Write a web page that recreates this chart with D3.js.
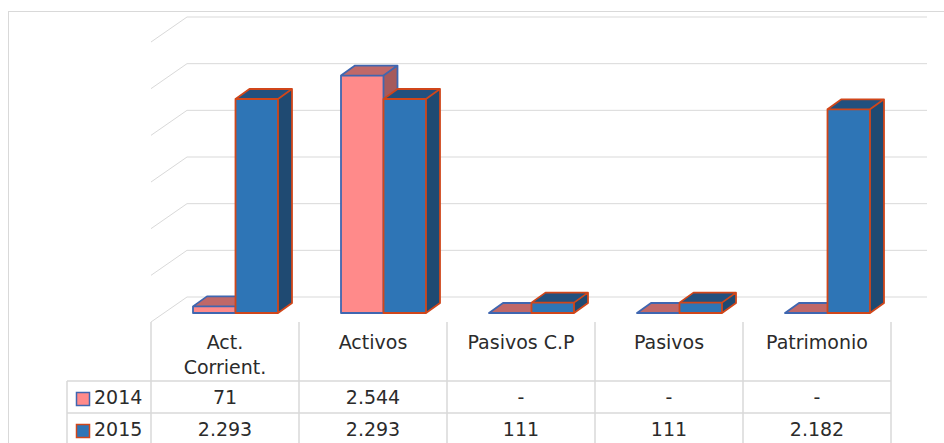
<!DOCTYPE html>
<html>
<head>
<meta charset="utf-8">
<script src="https://cdn.jsdelivr.net/npm/d3@7"></script>
<style>
    body{ margin:0; background:#fff; }
    svg text{ font-family:"DejaVu Sans", sans-serif; fill:#2b2b2b; }
</style>
</head>
<body>
<div id="chart"></div>
<script>
// data
const categories = ['Act. Corrient.', 'Activos', 'Pasivos C.P', 'Pasivos', 'Patrimonio'];
const headerLines = [['Act.', 'Corrient.'], ['Activos'], ['Pasivos C.P'], ['Pasivos'], ['Patrimonio']];
const years = ['2014', '2015'];
const values2014 = [71, 2544, 0, 0, 0];
const values2015 = [2293, 2293, 111, 111, 2182];
const yDomain = [0, 3000];

const width = 944, height = 443;

// colours for each series: front, top, side, outline
const palette = {
    '2014': {front:'#FF8A8A', top:'#C06868', side:'#A65A5C', stroke:'#3F66B0'},
    '2015': {front:'#2E75B6', top:'#22507E', side:'#1F4A72', stroke:'#D0461A'}
};

const locale = d3.formatLocale({decimal:',', thousands:'.', grouping:[3], currency:['', '']});
const fmt = d => d === 0 ? '-' : locale.format(',')(d);

const svg = d3.select('#chart').append('svg')
    .attr('width', width)
    .attr('height', height);

// outer chart border
svg.append('rect')
    .attr('x', 8.5).attr('y', 11.5)
    .attr('width', 960).attr('height', 460)
    .attr('fill', 'none')
    .attr('stroke', '#D9D9D9');

// floor: front edge and depth offset of the 3d box
const floorY = 322;
const depth = {dx: 36, dy: 25};
// bars sit part way into the floor
const barOffset = {dx: 13, dy: 9};
const barDepth = {dx: 14, dy: 10};

const x = d3.scaleBand()
    .domain(categories)
    .range([151, 891]);

const x1 = d3.scaleBand()
    .domain(years)
    .range([29, 114]);

const y = d3.scaleLinear()
    .domain(yDomain)
    .range([0, 280]);

// gridlines on side and back wall
const grid = svg.append('g').classed('grid', true)
    .attr('stroke', '#D9D9D9')
    .attr('fill', 'none');
y.ticks(6).forEach(v => {
    const yb = floorY - depth.dy - y(v);
    grid.append('path')
        .attr('d', `M${x.range()[0]},${floorY - y(v)}L${x.range()[0] + depth.dx},${yb}L${x.range()[1] + depth.dx},${yb}`);
});

// bars, drawn 2014 first so 2015 sits over it
const series = years.map((yr, i) => ({
    year: yr,
    values: i === 0 ? values2014 : values2015
}));

const bars = [];
categories.forEach((c, ci) => {
    series.forEach(s => bars.push({cat: c, year: s.year, value: s.values[ci]}));
});

svg.append('g').classed('bars', true)
    .selectAll('g.bar')
    .data(bars)
    .join('g')
    .classed('bar', true)
    .each(function(d){
        const g = d3.select(this);
        const col = palette[d.year];
        const x0 = x(d.cat) + barOffset.dx + x1(d.year);
        const w = x1.bandwidth();
        const base = floorY - barOffset.dy;
        const top = base - y(d.value);
        const {dx, dy} = barDepth;
        // side face
        g.append('path')
            .attr('d', `M${x0 + w},${top}L${x0 + w + dx},${top - dy}L${x0 + w + dx},${base - dy}L${x0 + w},${base}Z`)
            .attr('fill', col.side);
        // top face
        g.append('path')
            .attr('d', `M${x0},${top}L${x0 + dx},${top - dy}L${x0 + w + dx},${top - dy}L${x0 + w},${top}Z`)
            .attr('fill', col.top);
        // front face
        g.append('rect')
            .attr('x', x0).attr('y', top)
            .attr('width', w).attr('height', base - top)
            .attr('fill', col.front);
        // outline
        g.append('path')
            .attr('d', `M${x0},${base}L${x0},${top}L${x0 + dx},${top - dy}L${x0 + w + dx},${top - dy}L${x0 + w + dx},${base - dy}L${x0 + w},${base}Z`
                + `M${x0},${top}L${x0 + w},${top}L${x0 + w + dx},${top - dy}M${x0 + w},${top}L${x0 + w},${base}`)
            .attr('fill', 'none')
            .attr('stroke', col.stroke)
            .attr('stroke-width', 1.8)
            .attr('stroke-linejoin', 'round');
    });

// data table under the chart
const table = svg.append('g').classed('table', true);
const rowTop = [381, 413];
const tableBottom = 446;
const legendLeft = 67;
const lines = table.append('g')
    .attr('stroke', '#D9D9D9')
    .attr('stroke-width', 1.5);

// vertical separators
[...categories.map(c => x(c)), x.range()[1]].forEach(px => {
    lines.append('line')
        .attr('x1', px).attr('x2', px)
        .attr('y1', floorY).attr('y2', tableBottom);
});
lines.append('line')
    .attr('x1', legendLeft).attr('x2', legendLeft)
    .attr('y1', rowTop[0]).attr('y2', tableBottom);
[...rowTop, tableBottom].forEach(py => {
    lines.append('line')
        .attr('x1', legendLeft).attr('x2', x.range()[1])
        .attr('y1', py).attr('y2', py);
});

// header labels
categories.forEach((c, ci) => {
    const cx = x(c) + x.bandwidth() / 2;
    headerLines[ci].forEach((t, li) => {
        table.append('text')
            .attr('x', cx).attr('y', 349 + li * 25)
            .attr('text-anchor', 'middle')
            .attr('font-size', 19)
            .text(t);
    });
});

// value rows with legend keys
series.forEach((s, si) => {
    const base = rowTop[si] + 23;
    const col = palette[s.year];
    table.append('rect')
        .attr('x', 76.5).attr('y', base - 11.5)
        .attr('width', 13).attr('height', 13)
        .attr('fill', col.front)
        .attr('stroke', col.stroke)
        .attr('stroke-width', 1.5);
    table.append('text')
        .attr('x', 94).attr('y', base)
        .attr('font-size', 19)
        .text(s.year);
    s.values.forEach((v, ci) => {
        table.append('text')
            .attr('x', x(categories[ci]) + x.bandwidth() / 2)
            .attr('y', base)
            .attr('text-anchor', 'middle')
            .attr('font-size', 19)
            .text(fmt(v));
    });
});
</script>
</body>
</html>
